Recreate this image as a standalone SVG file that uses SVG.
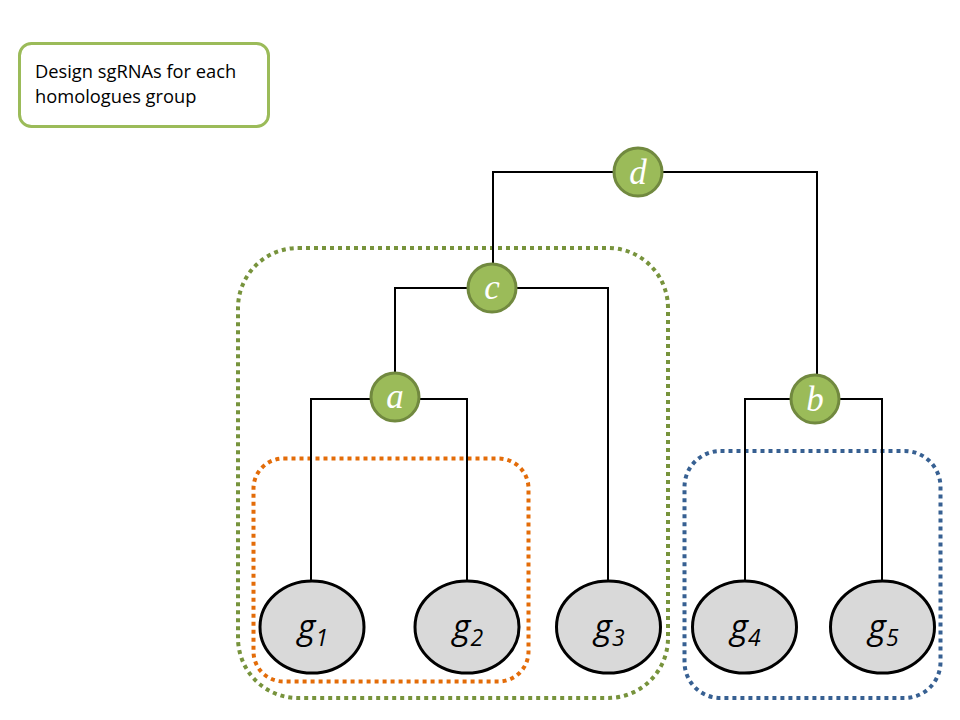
<svg xmlns="http://www.w3.org/2000/svg" width="960" height="720" viewBox="0 0 960 720">
<style>
.lbl{font-family:"Open Sans","Liberation Sans",Arial,sans-serif;font-size:18.3px;fill:#000}
.grp{fill:none;stroke-width:4;stroke-dasharray:4 4}
.edge{fill:none;stroke:#000;stroke-width:2}
.inner circle{fill:#9BBB59;stroke:#71893F;stroke-width:3}
.inner text{font-family:"Liberation Serif","Times New Roman",serif;font-style:italic;font-size:35px;fill:#fff;text-anchor:middle}
.leaf ellipse{fill:#D9D9D9;stroke:#000;stroke-width:3}
.leaf text{font-family:"Open Sans","Liberation Sans",Arial,sans-serif;font-style:italic;font-size:34px;fill:#000;text-anchor:middle}
.leaf tspan.sub{font-size:23px}
</style>
<rect width="960" height="720" fill="#fff"/>
<g id="legend">
<rect x="19.5" y="43.5" width="249" height="83" rx="12" fill="#fff" stroke="#9BBB59" stroke-width="3"/>
<text class="lbl" x="35" y="78">Design sgRNAs for each</text>
<text class="lbl" x="35" y="103">homologues group</text>
</g>
<g id="groups">
<rect class="grp" x="238" y="248" width="430" height="450" rx="60" stroke="#77933C"/>
<rect class="grp" x="253.5" y="458.5" width="275" height="223" rx="30" stroke="#E36C09"/>
<rect class="grp" x="684.5" y="451" width="256" height="247" rx="36" stroke="#376092"/>
</g>
<g id="connectors">
<polyline class="edge" points="493,288 493,172 817,172 817,399"/>
<polyline class="edge" points="395,397 395,288 608,288 608,580"/>
<polyline class="edge" points="311,580 311,399 467,399 467,580"/>
<polyline class="edge" points="745,580 745,399 882,399 882,580"/>
</g>
<g id="node-d" class="inner"><circle cx="638" cy="172" r="24"/><text x="638" y="184">d</text></g>
<g id="node-c" class="inner"><circle cx="492" cy="288" r="24"/><text x="492" y="299">c</text></g>
<g id="node-a" class="inner"><circle cx="395" cy="397" r="24"/><text x="395" y="408">a</text></g>
<g id="node-b" class="inner"><circle cx="815" cy="399" r="24"/><text x="815" y="411">b</text></g>
<g id="node-g1" class="leaf"><ellipse cx="312" cy="627" rx="52" ry="46"/><text x="313" y="639">g<tspan class="sub" dy="7">1</tspan></text></g>
<g id="node-g2" class="leaf"><ellipse cx="467" cy="627" rx="52" ry="46"/><text x="468" y="639">g<tspan class="sub" dy="7">2</tspan></text></g>
<g id="node-g3" class="leaf"><ellipse cx="608.5" cy="627" rx="52" ry="46"/><text x="609.5" y="639">g<tspan class="sub" dy="7">3</tspan></text></g>
<g id="node-g4" class="leaf"><ellipse cx="744.5" cy="627" rx="52" ry="46"/><text x="745.5" y="639">g<tspan class="sub" dy="7">4</tspan></text></g>
<g id="node-g5" class="leaf"><ellipse cx="882.5" cy="627" rx="52" ry="46"/><text x="883.5" y="639">g<tspan class="sub" dy="7">5</tspan></text></g>
</svg>
